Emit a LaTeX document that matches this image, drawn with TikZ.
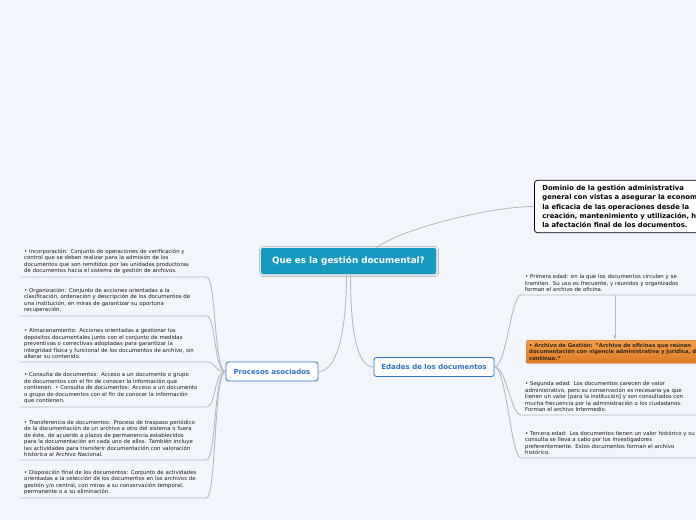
\documentclass[tikz,border=0pt]{standalone}
\usepackage{fontspec}
\setmainfont{DejaVu Sans}
\usepackage{xcolor}
\usetikzlibrary{arrows.meta,positioning,shadows.blur}
\definecolor{paper}{HTML}{F3F5FD}
\definecolor{rootteal}{HTML}{1799BF}
\definecolor{branchblue}{HTML}{2B72C6}
\definecolor{wire}{HTML}{B6B9C4}
\definecolor{agetop}{HTML}{F39C48}
\definecolor{agebottom}{HTML}{DE7B22}
\definecolor{ink}{HTML}{1C1C1C}
\tikzset{
  >={Latex[length=1.6mm,width=1.3mm]},
  link/.style={draw=wire,line width=.9pt},
  root/.style={fill=rootteal,rounded corners=2pt,text=white,
               font=\fontsize{8.8}{10}\selectfont\bfseries,minimum width=175pt,minimum height=26pt,
               blur shadow={shadow blur steps=4,shadow xshift=.5pt,shadow yshift=-.5pt,shadow opacity=20}},
  topic/.style={draw=branchblue,fill=white,line width=.8pt,rounded corners=2.5pt,text=branchblue,
                font=\fontsize{7}{8}\selectfont\bfseries,minimum height=19pt,inner xsep=4pt},
  leaf/.style={align=left,text width=178pt,inner xsep=4pt,inner ysep=3pt,
               font=\fontsize{5.4}{6.5}\selectfont,text=ink},
  note/.style={draw=black,fill=white,line width=.8pt,rounded corners=3pt,align=left,text=black,
               text width=180pt,inner xsep=8pt,inner ysep=5pt,font=\fontsize{6.8}{9.2}\selectfont\bfseries},
  archive/.style={leaf,text width=200pt,draw=agebottom!85!black,top color=agetop,bottom color=agebottom,
                  rounded corners=1.5pt,text=ink!90!brown,inner xsep=3pt,inner ysep=2pt,
                  font=\fontsize{5.3}{6.4}\selectfont\bfseries}
}
\begin{document}
\begin{tikzpicture}[x=1pt,y=-1pt]
  \useasboundingbox (0,0) rectangle (696,520);
  \clip (0,0) rectangle (696,520);
  \fill[paper] (0,0) rectangle (696,520);

  % centre and main branches
  \node[root] (qgd) at (348.5,261) {Que es la gestión documental?};
  \node[note,anchor=west] (dominio) at (534,206.5) {Dominio de la gestión administrativa\\general con vistas a asegurar la economía y\\la eficacia de las operaciones desde la\\creación, mantenimiento y utilización, hasta\\la afectación final de los documentos.};
  \node[topic,minimum width=92pt] (procesos) at (272,371.5) {Procesos asociados};
  \node[topic,minimum width=120pt] (edades) at (434,367) {Edades de los documentos};

  % procesos asociados
  \node[leaf,anchor=south west] (incorp) at (20,277) {• Incorporación: Conjunto de operaciones de verificación y\\control que se deben realizar para la admisión de los\\documentos que son remitidos por las unidades productoras\\de documentos hacia el sistema de gestión de archivos.};
  \node[leaf,anchor=south west] (organiz) at (20,316) {• Organización: Conjunto de acciones orientadas a la\\clasificación, ordenación y descripción de los documentos de\\una institución, en miras de garantizar su oportuna\\recuperación.};
  \node[leaf,anchor=south west] (almacen) at (20,362) {• Almacenamiento: Acciones orientadas a gestionar los\\depósitos documentales junto con el conjunto de medidas\\preventivas o correctivas adoptadas para garantizar la\\integridad física y funcional de los documentos de archivo, sin\\alterar su contenido.};
  \node[leaf,anchor=south west] (consulta) at (20,407) {• Consulta de documentos: Acceso a un documento o grupo\\de documentos con el fin de conocer la información que\\contienen. • Consulta de documentos: Acceso a un documento\\o grupo de documentos con el fin de conocer la información\\que contienen.};
  \node[leaf,anchor=south west] (transfer) at (20,460) {• Transferencia de documentos: Proceso de traspaso periódico\\de la documentación de un archivo a otro del sistema o fuera\\de éste, de acuerdo a plazos de permanencia establecidos\\para la documentación en cada uno de ellos. También incluye\\las actividades para transferir documentación con valoración\\histórica al Archivo Nacional.};
  \node[leaf,anchor=south west] (disposic) at (20,498) {• Disposición final de los documentos: Conjunto de actividades\\orientadas a la selección de los documentos en los archivos de\\gestión y/o central, con miras a su conservación temporal,\\permanente o a su eliminación.};

  % edades de los documentos
  \node[leaf,anchor=south west] (primera) at (521,295) {• Primera edad: en la que los documentos circulan y se\\tramitan. Su uso es frecuente, y reunidos y organizados\\forman el archivo de oficina.};
  \node[archive,anchor=north west,minimum height=23pt] (gestion) at (526,340) {• Archivo de Gestión: "Archivo de oficinas que reúnen\\documentación con vigencia administrativa y jurídica, de uso\\continuo."};
  \node[leaf,anchor=south west] (segunda) at (521,415) {• Segunda edad: Los documentos carecen de valor\\administrativo, pero su conservación es necesaria ya que\\tienen un valor [para la institución] y son consultados con\\mucha frecuencia por la administración o los ciudadanos.\\Forman el archivo Intermedio.};
  \node[leaf,anchor=south west] (tercera) at (521,458) {• Tercera edad: Los documentos tienen un valor histórico y su\\consulta se lleva a cabo por los investigadores\\preferentemente. Estos documentos forman el archivo\\histórico.};

  % connectors
  \draw[link] ([xshift=28pt]qgd.north) .. controls +(22,-18) and +(-45,0) .. (dominio.west);
  \draw[link] ([xshift=-2pt]qgd.south) .. controls +(0,60) and +(18,0) .. (procesos.east);
  \draw[link] ([xshift=2pt]qgd.south) .. controls +(0,60) and +(-16,0) .. (edades.west);
  \foreach \item in {incorp,organiz,almacen,consulta,transfer,disposic}
    \draw[link] (procesos.west) .. controls +(-12,0) and +(10,0) .. (\item.south east) -- (\item.south west);
  \foreach \item in {primera,segunda,tercera}
    \draw[link] (edades.east) .. controls +(12,0) and +(-10,0) .. (\item.south west) -- (\item.south east);
  \draw[link,->] ([xshift=94pt]primera.south west) coordinate (pa) -- (pa |- gestion.north);
\end{tikzpicture}
\end{document}
